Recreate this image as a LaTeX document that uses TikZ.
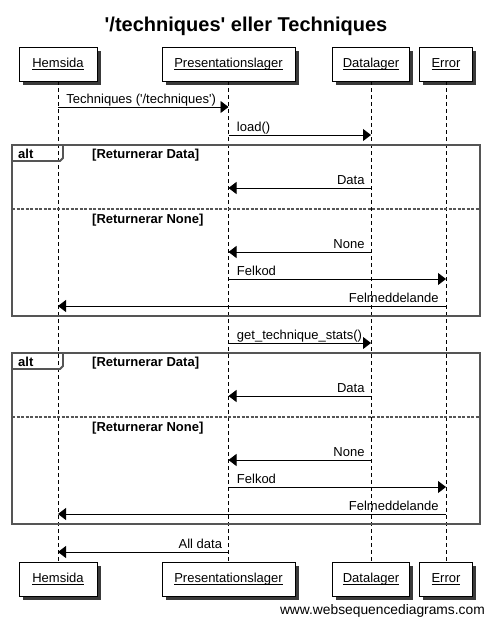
\documentclass[tikz,border=0pt]{standalone}
\usepackage{fontspec}
\setmainfont{Liberation Sans}[Ligatures=TeXOff]
\usetikzlibrary{arrows.meta,shadows}
\newcommand\myul[1]{\setbox0\hbox{#1}\rlap{\rule[-2.2pt]{\wd0}{0.9pt}}\box0}
\definecolor{framegray}{HTML}{555555}
\definecolor{shadowgray}{HTML}{3A3A3A}
\tikzset{
  actor/.style={draw=black, line width=0.9pt, fill=white, minimum height=34pt, inner sep=0pt,
    font=\fontsize{13}{15}\selectfont,
    drop shadow={shadow xshift=3.5pt, shadow yshift=-3.5pt, fill=shadowgray, opacity=1}},
  lifeline/.style={line width=0.9pt, dash pattern=on 4pt off 3pt},
  msg/.style={line width=0.9pt, -{Triangle[length=8pt,width=12pt]}},
  msglabel/.style={inner sep=0pt, font=\fontsize{13}{15}\selectfont},
  frameline/.style={draw=framegray, line width=2.6pt},
  tabline/.style={draw=framegray, line width=1.8pt},
  sepline/.style={draw=framegray, line width=2pt, dash pattern=on 3pt off 1.5pt},
  boldlabel/.style={inner sep=0pt, font=\fontsize{13}{15}\selectfont\bfseries},
}
\begin{document}
\begin{tikzpicture}[x=1pt,y=-1pt]
\useasboundingbox (0,0) rectangle (489,619);
\fill[white] (0,0) rectangle (489,619);

\node[inner sep=0pt, anchor=base, font=\fontsize{20}{24}\selectfont\bfseries] (title) at (246,31) {'/techniques' eller Techniques};

% actors top
\node[actor, minimum width=78pt] (hT) at (58,64) {\myul{Hemsida}};
\node[actor, minimum width=133pt] (pT) at (228.5,64) {\myul{Presentationslager}};
\node[actor, minimum width=77pt] (dT) at (371,64) {\myul{Datalager}};
\node[actor, minimum width=53pt] (eT) at (446,64) {\myul{Error}};
% actors bottom
\node[actor, minimum width=78pt] (hB) at (58,579) {\myul{Hemsida}};
\node[actor, minimum width=133pt] (pB) at (228.5,579) {\myul{Presentationslager}};
\node[actor, minimum width=77pt] (dB) at (371,579) {\myul{Datalager}};
\node[actor, minimum width=53pt] (eB) at (446,579) {\myul{Error}};

% lifelines
\draw[lifeline] (hT.south) -- (hB.north);
\draw[lifeline] (pT.south) -- (pB.north);
\draw[lifeline] (dT.south) -- (dB.north);
\draw[lifeline] (eT.south) -- (eB.north);

% messages before first alt
\draw[msg] (hT.south |- 0,107) -- (pT.south |- 0,107)
  node[msglabel, pos=0, anchor=base west, xshift=8pt, yshift=3.5pt] (l1) {Techniques ('/techniques')};
\draw[msg] (pT.south |- 0,135) -- (dT.south |- 0,135)
  node[msglabel, pos=0, anchor=base west, xshift=8pt, yshift=3.5pt] (l2) {load()};

% first alt frame
\draw[frameline] (12,145) rectangle (480,316);
\draw[tabline] (12,161) -- (60,161) -- (63,158) -- (63,145);
\node[boldlabel, anchor=base west] (alt1) at (18,158) {alt};
\node[boldlabel, anchor=base west] (g1) at (92,158) {[Returnerar Data]};
\draw[msg] (dT.south |- 0,188) -- (pT.south |- 0,188)
  node[msglabel, pos=0, anchor=base east, xshift=-6pt, yshift=3.5pt] (l3) {Data};
\draw[sepline] (12,209) -- (480,209);
\node[boldlabel, anchor=base west] (g2) at (92,223) {[Returnerar None]};
\draw[msg] (dT.south |- 0,252) -- (pT.south |- 0,252)
  node[msglabel, pos=0, anchor=base east, xshift=-6pt, yshift=3.5pt] (l4) {None};
\draw[msg] (pT.south |- 0,279) -- (eT.south |- 0,279)
  node[msglabel, pos=0, anchor=base west, xshift=8pt, yshift=3.5pt] (l5) {Felkod};
\draw[msg] (eT.south |- 0,306) -- (hT.south |- 0,306)
  node[msglabel, pos=0, anchor=base east, xshift=-7pt, yshift=3.5pt] (l6) {Felmeddelande};

% between
\draw[msg] (pT.south |- 0,343) -- (dT.south |- 0,343)
  node[msglabel, pos=0, anchor=base west, xshift=8pt, yshift=3.5pt] (l7) {get\_technique\_stats()};

% second alt frame
\draw[frameline] (12,353) rectangle (480,524);
\draw[tabline] (12,369) -- (60,369) -- (63,366) -- (63,353);
\node[boldlabel, anchor=base west] (alt2) at (18,366) {alt};
\node[boldlabel, anchor=base west] (g3) at (92,366) {[Returnerar Data]};
\draw[msg] (dT.south |- 0,396) -- (pT.south |- 0,396)
  node[msglabel, pos=0, anchor=base east, xshift=-6pt, yshift=3.5pt] (l8) {Data};
\draw[sepline] (12,417) -- (480,417);
\node[boldlabel, anchor=base west] (g4) at (92,431) {[Returnerar None]};
\draw[msg] (dT.south |- 0,460) -- (pT.south |- 0,460)
  node[msglabel, pos=0, anchor=base east, xshift=-6pt, yshift=3.5pt] (l9) {None};
\draw[msg] (pT.south |- 0,487) -- (eT.south |- 0,487)
  node[msglabel, pos=0, anchor=base west, xshift=8pt, yshift=3.5pt] (l10) {Felkod};
\draw[msg] (eT.south |- 0,514) -- (hT.south |- 0,514)
  node[msglabel, pos=0, anchor=base east, xshift=-7pt, yshift=3.5pt] (l11) {Felmeddelande};

% final
\draw[msg] (pT.south |- 0,552) -- (hT.south |- 0,552)
  node[msglabel, pos=0, anchor=base east, xshift=-6pt, yshift=3.5pt] (l12) {All data};

\node[inner sep=0pt, anchor=base east, font=\fontsize{13.8}{16}\selectfont] (wsd) at (485,614) {www.websequencediagrams.com};
\end{tikzpicture}
\end{document}
